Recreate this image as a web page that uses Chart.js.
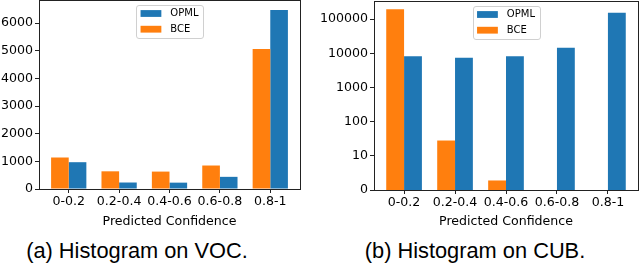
<!DOCTYPE html>
<html>
<head>
<meta charset="utf-8">
<script src="https://cdn.jsdelivr.net/npm/chart.js@4/dist/chart.umd.min.js"></script>
<style>
  html, body { margin: 0; padding: 0; background: #fff; }
  body { width: 640px; height: 265px; position: relative; overflow: hidden; }
  .panel { position: absolute; top: 0; width: 320px; height: 232px; }
  .caption {
    position: absolute; top: 239px; width: 300px; text-align: center;
    font-family: 'Liberation Sans', Arial, sans-serif; font-size: 21.8px; line-height: 24px; color: #000;
  }
</style>
</head>
<body>
<div class="panel" style="left:0"><canvas id="vocChart" width="320" height="232"></canvas></div>
<div class="panel" style="left:320px"><canvas id="cubChart" width="320" height="232"></canvas></div>
<div class="caption" style="left:-13px">(a) Histogram on VOC.</div>
<div class="caption" style="left:325px">(b) Histogram on CUB.</div>

<script>
// Histogramy spoľahlivosti predikcie — VOC a CUB.

const categories = ["0-0.2", "0.2-0.4", "0.4-0.6", "0.6-0.8", "0.8-1"];

// VOC (lineárna os)
const vocBCE = [1140, 640, 630, 850, 5070];
const vocOPML = [970, 235, 230, 440, 6480];
const vocTicks = [0, 1000, 2000, 3000, 4000, 5000, 6000];

// CUB (logaritmická os, spodok 10^0 je označený "0")
const cubBCE = [192000, 28, 1.9, 0, 0];
const cubOPML = [8220, 7330, 8220, 14400, 153000];
const cubTicks = [1, 10, 100, 1000, 10000, 100000];
const cubTickLabels = ["0", "10", "100", "1000", "10000", "100000"];

const colors = {
  bce: "#ff7f0e",
  opml: "#1f77b4",
  frame: "#222",
  text: "#000",
};

Chart.defaults.font.family = "'DejaVu Sans', sans-serif";
Chart.defaults.font.size = 12.6;
Chart.defaults.color = colors.text;

// rámik okolo plochy grafu (ako matplotlib spines)
const framePlugin = {
  id: "frame",
  afterDraw(chart) {
    const { ctx, chartArea: a } = chart;
    const l = Math.round(a.left), t = Math.round(a.top), r = Math.round(a.right), b = Math.round(a.bottom);
    ctx.save();
    ctx.strokeStyle = colors.frame;
    ctx.lineWidth = 1;
    ctx.strokeRect(l + 0.5, t + 0.5, r - l, b - t);
    ctx.restore();
  },
};

// legenda vnútri grafu, hore v strede
const insideLegend = {
  id: "insideLegend",
  afterDraw(chart) {
    const { ctx, chartArea: a } = chart;
    const items = chart.data.datasets.slice().reverse();
    ctx.save();
    ctx.font = "10px 'DejaVu Sans'";
    const textW = Math.max(...items.map((d) => ctx.measureText(d.label).width));
    const pad = 4.3, handle = 20.8, gap = 9, rowH = 15.7;
    const w = pad + handle + gap + textW + pad;
    const h = 33.3;
    const x = (a.left + a.right) / 2 - w / 2;
    const y = a.top + 5;
    ctx.fillStyle = "rgba(255,255,255,0.8)";
    ctx.strokeStyle = "#d0d0d0";
    ctx.lineWidth = 1;
    ctx.beginPath();
    ctx.roundRect(Math.round(x) + 0.5, Math.round(y) + 0.5, Math.round(w), Math.round(h), 2.5);
    ctx.fill();
    ctx.stroke();
    ctx.textBaseline = "middle";
    ctx.textAlign = "left";
    items.forEach((d, i) => {
      const cy = y + 8.5 + i * rowH;
      ctx.fillStyle = d.backgroundColor;
      ctx.fillRect(x + pad, cy - 3.4, handle, 6.8);
      ctx.fillStyle = colors.text;
      ctx.fillText(d.label, x + pad + handle + gap, cy);
    });
    ctx.restore();
  },
};

function xAxis(height) {
  return {
    type: "linear",
    min: -0.59,
    max: 4.59,
    offset: false,
    afterBuildTicks: (axis) => { axis.ticks = categories.map((_, i) => ({ value: i })); },
    afterFit: (axis) => {
      axis.height = height;
      axis.paddingLeft = 0;
      axis.paddingRight = 0;
    },
    grid: { display: true, offset: false, drawOnChartArea: false, drawTicks: true, tickLength: 4, color: colors.frame },
    border: { display: false },
    ticks: { padding: 1, maxRotation: 0, autoSkip: false, callback: (v) => categories[v] },
    title: { display: true, text: "Predicted Confidence", padding: { top: 0, bottom: 3 } },
  };
}

function yFit(width) {
  return (axis) => {
    axis.width = width;
    axis.paddingTop = 0;
    axis.paddingBottom = 0;
  };
}

function makeDatasets(bce, opml) {
  return [
    { label: "BCE", data: bce.map((v, i) => ({ x: i, y: v })), backgroundColor: colors.bce },
    { label: "OPML", data: opml.map((v, i) => ({ x: i, y: v })), backgroundColor: colors.opml },
  ];
}

const common = {
  responsive: false,
  animation: false,
  events: [],
  categoryPercentage: 0.7,
  barPercentage: 1.0,
  plugins: { legend: { display: false }, tooltip: { enabled: false } },
};

new Chart(document.getElementById("vocChart"), {
  type: "bar",
  data: { datasets: makeDatasets(vocBCE, vocOPML) },
  options: {
    ...common,
    layout: { autoPadding: false, padding: { left: 0, right: 20, top: 0, bottom: 0 } },
    scales: {
      x: xAxis(43),
      y: {
        type: "linear",
        min: 0,
        max: 6840,
        afterBuildTicks: (axis) => { axis.ticks = vocTicks.map((v) => ({ value: v })); },
        afterFit: yFit(39),
        grid: { display: true, drawOnChartArea: false, drawTicks: true, tickLength: 4, color: colors.frame },
        border: { display: false },
        ticks: { padding: 2, callback: (v) => String(v) },
      },
    },
  },
  plugins: [framePlugin, insideLegend],
});

new Chart(document.getElementById("cubChart"), {
  type: "bar",
  data: { datasets: makeDatasets(cubBCE, cubOPML) },
  options: {
    ...common,
    layout: { autoPadding: false, padding: { left: 0, right: 2, top: 1, bottom: 0 } },
    scales: {
      x: xAxis(42),
      y: {
        type: "logarithmic",
        min: 1,
        max: 337000,
        afterBuildTicks: (axis) => { axis.ticks = cubTicks.map((v) => ({ value: v })); },
        afterFit: yFit(54),
        grid: { display: true, drawOnChartArea: false, drawTicks: true, tickLength: 4, color: colors.frame },
        border: { display: false },
        ticks: { padding: 2, callback: (v) => cubTickLabels[cubTicks.indexOf(v)] },
      },
    },
  },
  plugins: [framePlugin, insideLegend],
});
</script>
</body>
</html>
